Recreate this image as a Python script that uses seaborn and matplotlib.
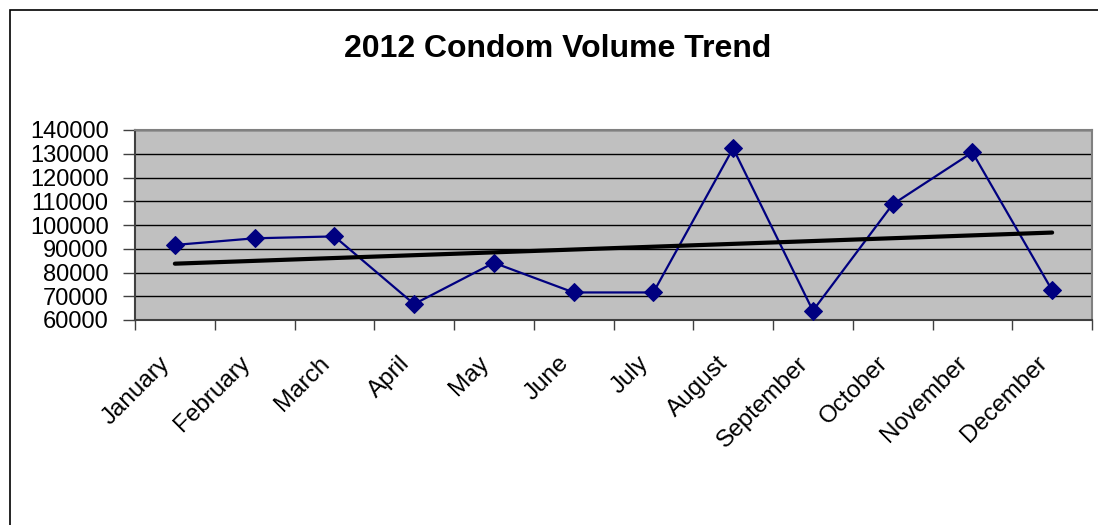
import numpy as np
import pandas as pd
import matplotlib
matplotlib.use("Agg")
import matplotlib.pyplot as plt
import matplotlib.transforms as mtransforms
from matplotlib.patches import Rectangle
import seaborn as sns

months = ["January", "February", "March", "April", "May", "June", "July",
          "August", "September", "October", "November", "December"]
volume = [91600, 94400, 95200, 66700, 84100, 71600, 71600,
          132300, 63900, 108700, 130600, 72500]
y_ticks = [60000, 70000, 80000, 90000, 100000, 110000, 120000, 130000, 140000]

sns.set_theme(style="white", rc={"text.color": "black", "xtick.color": "#404040",
                                 "ytick.color": "#404040"})
plt.rcParams['font.family'] = ['Liberation Sans', 'DejaVu Sans']

df = pd.DataFrame({"idx": np.arange(len(months)), "month": months, "volume": volume})

fig = plt.figure(figsize=(10.98, 5.25), dpi=100)
ax = fig.add_axes([135/1098, 1 - 320/525, (1092 - 135)/1098, 190/525])
ax.set_facecolor("#C0C0C0")

ax.set_axisbelow(True)
ax.yaxis.grid(True, color="black", linewidth=1.0)
ax.xaxis.grid(False)

sns.lineplot(data=df, x="idx", y="volume", ax=ax, color="#000080", linewidth=1.6,
             marker="D", markersize=9, markeredgecolor="#000080", zorder=3)
sns.regplot(data=df, x="idx", y="volume", ax=ax, scatter=False, ci=None,
            line_kws={"color": "black", "linewidth": 3, "zorder": 4})

ax.set_xlim(-0.5, len(months) - 0.5)
ax.set_ylim(60000, 140000)
ax.set_yticks(y_ticks)
ax.set_yticklabels([str(v) for v in y_ticks], fontsize=17)
ax.set_xticks(np.arange(len(months)))
ax.set_xticklabels(months, fontsize=17.5, rotation=45, ha="right", rotation_mode="anchor")
ax.set_xticks(np.arange(len(months) + 1) - 0.5, minor=True)
ax.tick_params(axis="x", which="major", bottom=False, length=0, pad=16, labelcolor="black")
ax.tick_params(axis="x", which="minor", bottom=True, length=7, width=1, direction="out")
ax.tick_params(axis="y", length=9, width=1, direction="out", left=True, pad=10,
               labelcolor="black")
ax.set_xlabel("")
ax.set_ylabel("")

offset = mtransforms.ScaledTranslation(-16/100, -10/100, fig.dpi_scale_trans)
for lbl in ax.get_xticklabels():
    lbl.set_transform(lbl.get_transform() + offset)

for side in ["left", "bottom", "right", "top"]:
    ax.spines[side].set_visible(True)
    ax.spines[side].set_color("#808080")
    ax.spines[side].set_linewidth(1.5)
ax.spines["left"].set_color("#404040")
ax.spines["bottom"].set_color("#404040")

fig.text(558/1098, 1 - 49/525, "2012 Condom Volume Trend",
         ha="center", va="center", fontsize=23, fontweight="bold", color="black")

border = Rectangle((10/1098, -0.05), 1.05, 1 - 10/525 + 0.05, transform=fig.transFigure,
                   fill=False, edgecolor="black", linewidth=1.2, zorder=0)
fig.patches.append(border)

fig.savefig("out.png", dpi=100)
